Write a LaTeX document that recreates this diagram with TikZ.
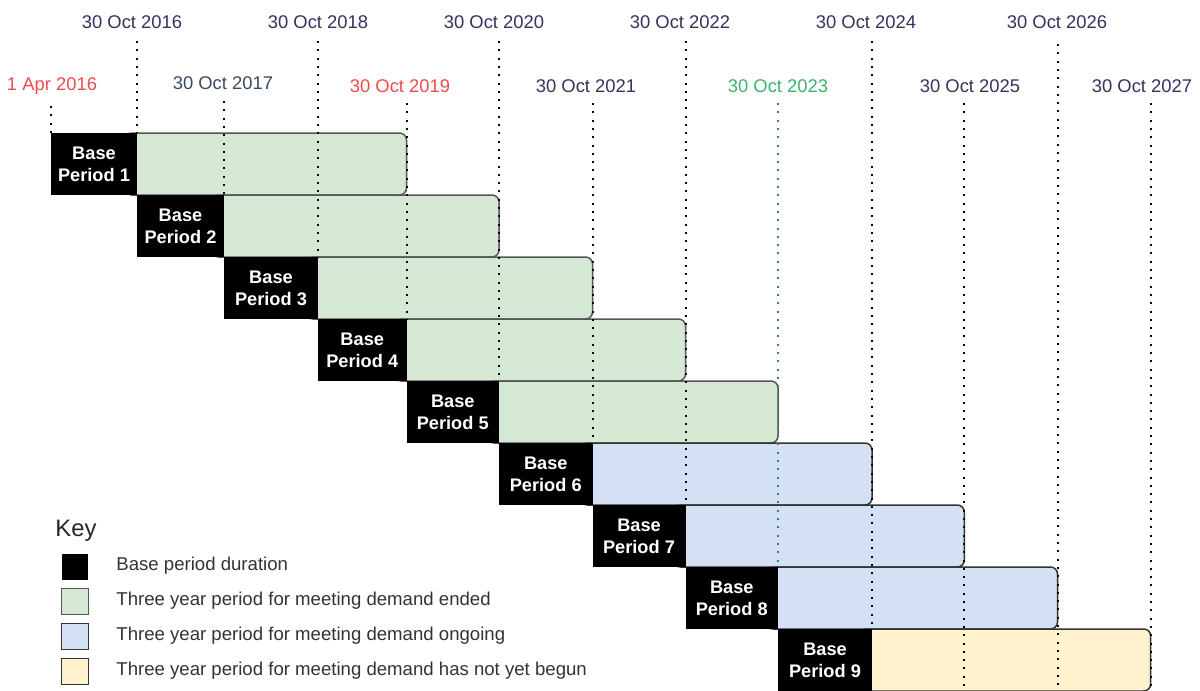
\documentclass[tikz,border=0pt]{standalone}
\usepackage{fontspec}
\setmainfont{Liberation Sans}
\definecolor{navy}{HTML}{33335E}
\definecolor{navyb}{HTML}{3B4B5E}
\definecolor{redd}{HTML}{F24A4A}
\definecolor{grntxt}{HTML}{3DB26D}
\definecolor{grnline}{HTML}{2E8B57}
\definecolor{gfill}{HTML}{D5E8D4}
\definecolor{bfill}{HTML}{D4E1F5}
\definecolor{yfill}{HTML}{FFF2CC}
\definecolor{gstroke}{HTML}{555555}
\definecolor{dstroke}{HTML}{333333}
\begin{document}
\begin{tikzpicture}[x=0.5pt,y=-0.5pt,
  barbase/.style={rectangle, rounded corners=3.5pt, line width=0.75pt, outer sep=0pt, inner sep=0pt, minimum height=31pt},
  gbar/.style={barbase, draw=gstroke, fill=gfill},
  bbar/.style={barbase, draw=dstroke, fill=bfill},
  ybar/.style={barbase, draw=dstroke, fill=yfill},
  bpbox/.style={rectangle, fill=black, text=white, outer sep=0pt, inner sep=0pt, minimum height=31pt, align=center, font=\fontsize{9.1}{11}\selectfont\bfseries},
  datelbl/.style={inner sep=0pt, font=\fontsize{9.2}{11}\selectfont},
  vline/.style={line width=1pt, dash pattern=on 1pt off 3.15pt},
  keysq/.style={rectangle, line width=0.6pt, inner sep=0pt, minimum width=13.3pt, minimum height=13pt, anchor=north west},
  keytxt/.style={anchor=west, inner sep=0pt, text=black!80, font=\fontsize{9.3}{11}\selectfont}]
\useasboundingbox (0,0) rectangle (1200,691);
\def\colarr{{51,137,224,318,406.5,499,592.5,685.5,778,872,964.3,1057.5,1150.7}}
% bars and base period boxes
\foreach \k/\sty in {1/gbar,2/gbar,3/gbar,4/gbar,5/gbar,6/bbar,7/bbar,8/bbar,9/ybar}{
  \pgfmathsetmacro\xa{\colarr[\k-1]}
  \pgfmathsetmacro\xb{\colarr[\k]}
  \pgfmathsetmacro\xc{\colarr[\k+3]}
  \pgfmathsetmacro\yt{133+62*(\k-1)}
  \pgfmathsetmacro\wbar{(\xc-\xb+12)/2}
  \pgfmathsetmacro\wbp{(\xb-\xa)/2}
  \node[\sty, minimum width=\wbar pt, anchor=north east] (bar\k) at (\xc,\yt) {};
  \node[bpbox, minimum width=\wbp pt, anchor=north west] (bp\k) at (\xa,\yt) {Base\\Period \k};
}
% date labels
\foreach \k/\x/\y/\c/\t in {0/52/86/redd/1 Apr 2016, 1/132/22/navy/30 Oct 2016, 2/223/83/navyb/30 Oct 2017,
  3/318/22/navy/30 Oct 2018, 4/400/86/redd/30 Oct 2019, 5/494/22/navy/30 Oct 2020, 6/586/86/navy/30 Oct 2021,
  7/680/22/navy/30 Oct 2022, 8/778/86/grntxt/30 Oct 2023, 9/866/22/navy/30 Oct 2024, 10/970/86/navy/30 Oct 2025,
  11/1057/22/navy/30 Oct 2026, 12/1142/86/navy/30 Oct 2027}{
  \node[datelbl, text=\c] (l\k) at (\x,\y) {\t};
}
% dotted date lines
\foreach \k/\ytop/\c in {0/106/black, 1/41/black, 2/101/black, 3/41/black, 4/103/black, 5/41/black, 6/103/black,
  7/41/black, 8/103/grnline, 9/41/black, 10/103/black, 11/44/black, 12/103/black}{
  \pgfmathsetmacro\xx{\colarr[\k]}
  \pgfmathsetmacro\yb{min(133+62*(max(\k,1)-1),691)}
  \coordinate (t\k) at (\xx,\ytop);
  \coordinate (b\k) at (\xx,\yb);
  \draw[vline, draw=\c] (t\k) -- (b\k);
}
% key
\node[anchor=west, inner sep=0pt, text=black!85, font=\fontsize{11.9}{14}\selectfont] (keyttl) at (55,531) {Key};
\node[keysq, fill=black] (k1) at (61,553) {};
\node[keysq, draw=gstroke, fill=gfill] (k2) at (61,588) {};
\node[keysq, draw=dstroke, fill=bfill] (k3) at (61,623) {};
\node[keysq, draw=dstroke, fill=yfill] (k4) at (61,658) {};
\node[keytxt] (kt1) at (116,566) {Base period duration};
\node[keytxt] (kt2) at (116,601) {Three year period for meeting demand ended};
\node[keytxt] (kt3) at (116,636) {Three year period for meeting demand ongoing};
\node[keytxt] (kt4) at (116,671) {Three year period for meeting demand has not yet begun};
\end{tikzpicture}
\end{document}
